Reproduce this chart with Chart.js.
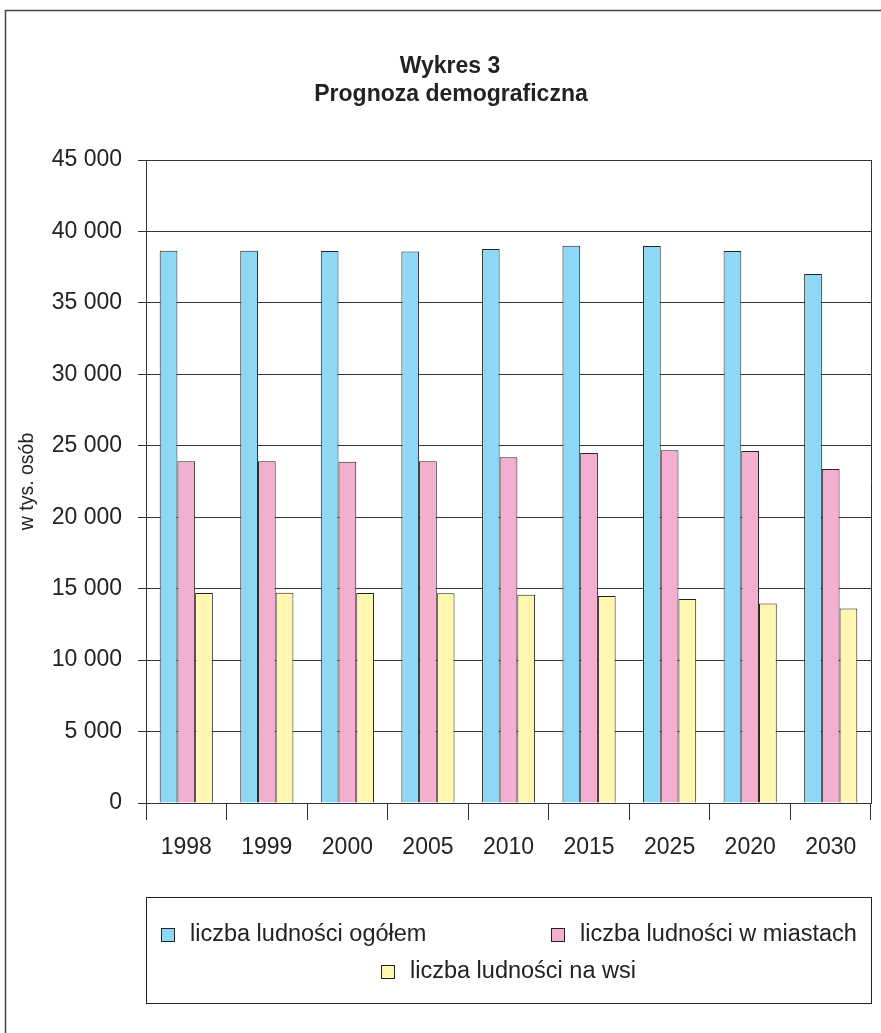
<!DOCTYPE html>
<html>
<head>
<meta charset="utf-8">
<script src="https://cdn.jsdelivr.net/npm/chart.js@4/dist/chart.umd.min.js"></script>
<style>
  html, body { margin: 0; padding: 0; background: #fff; }
  canvas { display: block; }
</style>
</head>
<body>
<canvas id="chart" width="881" height="1033"></canvas>
<script>
const years = ['1998', '1999', '2000', '2005', '2010', '2015', '2025', '2020', '2030'];
const totalPop = [38650, 38650, 38630, 38600, 38770, 39000, 38980, 38630, 37020];
const urbanPop = [23910, 23910, 23890, 23910, 24190, 24490, 24680, 24630, 23370];
const ruralPop = [14700, 14720, 14700, 14680, 14580, 14490, 14280, 13970, 13620];
const seriesNames = ['liczba ludności ogółem', 'liczba ludności w miastach', 'liczba ludności na wsi'];
const titleLines = ['Wykres 3', 'Prognoza demograficzna'];
const yTitle = 'w tys. osób';

const FONT = '"Liberation Sans", Arial, Helvetica, sans-serif';
const INK = '#222';

const formatThousands = (v) => String(v).replace(/\B(?=(\d{3})+(?!\d))/g, ' ');

// outer frame, title, right border of the plot
const framePlugin = {
  id: 'frame',
  beforeDraw(chart) {
    const { ctx } = chart;
    ctx.save();
    ctx.fillStyle = '#fff';
    ctx.fillRect(0, 0, chart.width, chart.height);
    ctx.strokeStyle = '#444';
    ctx.lineWidth = 1.5;
    ctx.beginPath();
    ctx.moveTo(5.5, chart.height);
    ctx.lineTo(5.5, 10.5);
    ctx.lineTo(chart.width, 10.5);
    ctx.stroke();
    ctx.fillStyle = INK;
    ctx.font = 'bold 23px ' + FONT;
    ctx.textAlign = 'center';
    ctx.textBaseline = 'middle';
    ctx.fillText(titleLines[0], 450, 67);
    ctx.fillText(titleLines[1], 451, 95);
    ctx.restore();
  },
  afterDraw(chart) {
    const { ctx, chartArea } = chart;
    ctx.save();
    ctx.strokeStyle = '#333';
    ctx.lineWidth = 1;
    ctx.beginPath();
    ctx.moveTo(chartArea.right + 0.5, chartArea.top);
    ctx.lineTo(chartArea.right + 0.5, chartArea.bottom);
    ctx.stroke();
    ctx.restore();
  }
};

// boxed legend: two items on the first row, one centred below
const legendBoxPlugin = {
  id: 'legendBox',
  afterDraw(chart) {
    const { ctx } = chart;
    const ds = chart.data.datasets;
    const spots = [[161, 934], [551, 934], [381, 971]];
    ctx.save();
    ctx.strokeStyle = INK;
    ctx.lineWidth = 1;
    ctx.strokeRect(146.5, 897.5, 725, 106);
    ctx.font = '23.5px ' + FONT;
    ctx.textBaseline = 'middle';
    ctx.textAlign = 'left';
    ds.forEach((d, i) => {
      const [x, y] = spots[i];
      ctx.fillStyle = d.backgroundColor;
      ctx.fillRect(x, y - 6, 13, 13);
      ctx.strokeStyle = INK;
      ctx.strokeRect(x + 0.5, y - 5.5, 13, 13);
      ctx.fillStyle = INK;
      ctx.fillText(d.label, x + 29, y + 1);
    });
    ctx.restore();
  }
};

new Chart(document.getElementById('chart'), {
  type: 'bar',
  data: {
    labels: years,
    datasets: [
      { label: seriesNames[0], data: totalPop, backgroundColor: '#8ed8f5' },
      { label: seriesNames[1], data: urbanPop, backgroundColor: '#f3afd0' },
      { label: seriesNames[2], data: ruralPop, backgroundColor: '#fff7b0' }
    ].map((d) => Object.assign(d, { borderColor: INK, borderWidth: 1, categoryPercentage: 0.66, barPercentage: 1 }))
  },
  options: {
    responsive: false,
    animation: false,
    devicePixelRatio: 1,
    layout: { padding: { top: 160, right: 10, bottom: 0, left: 0 } },
    plugins: {
      legend: { display: false },
      title: { display: false },
      tooltip: { enabled: false }
    },
    scales: {
      x: {
        grid: { drawOnChartArea: false, drawTicks: true, tickLength: 17, color: '#333', offset: true },
        border: { color: '#333' },
        ticks: { color: INK, font: { family: FONT, size: 23 }, padding: 14 },
        afterFit: (s) => { s.height = 230; }
      },
      y: {
        min: 0,
        max: 45000,
        grid: { color: '#333', tickLength: 8 },
        border: { color: '#333' },
        ticks: {
          stepSize: 5000,
          color: INK,
          font: { family: FONT, size: 23 },
          padding: 16,
          callback: (v) => formatThousands(v)
        },
        title: { display: true, text: yTitle, color: INK, font: { family: FONT, size: 19.5 }, padding: { top: 16, bottom: 0 } },
        afterFit: (s) => { s.width = 146; }
      }
    }
  },
  plugins: [framePlugin, legendBoxPlugin]
});
</script>
</body>
</html>
